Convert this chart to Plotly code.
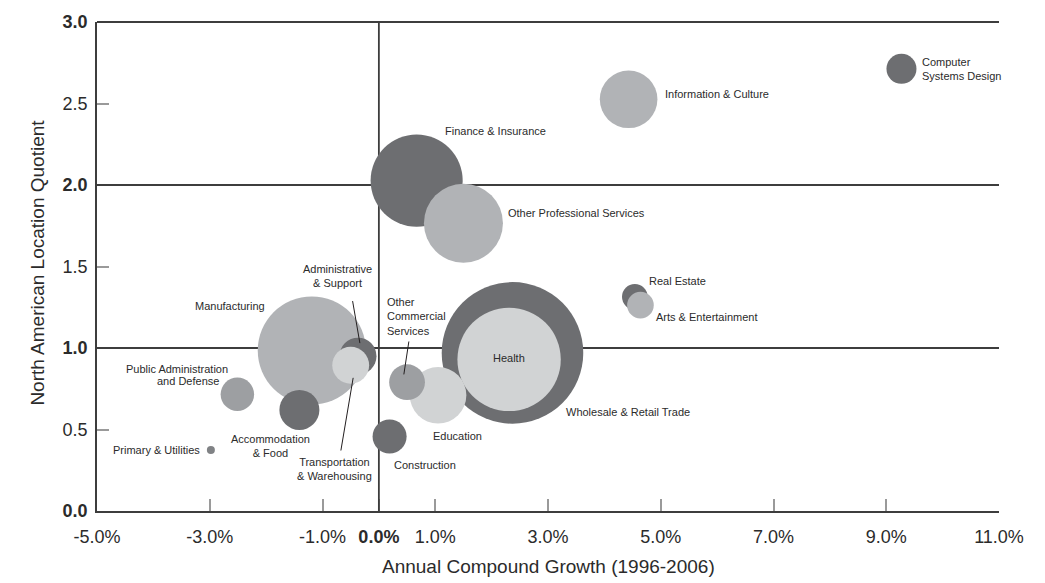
import plotly.graph_objects as go

# Sector data: annual compound growth (%), North American location quotient,
# and relative sector size (drives bubble area). Listed in drawing order.
sectors = [
    "Wholesale & Retail Trade", "Health", "Education", "Other Commercial Services",
    "Manufacturing", "Administrative & Support", "Transportation & Warehousing",
    "Accommodation & Food", "Public Administration and Defense", "Primary & Utilities",
    "Construction", "Finance & Insurance", "Other Professional Services",
    "Information & Culture", "Computer Systems Design", "Real Estate",
    "Arts & Entertainment",
]
growth = [2.37, 2.31, 1.05, 0.50, -1.19, -0.37, -0.50, -1.41, -2.51, -2.98,
          0.19, 0.67, 1.50, 4.43, 9.27, 4.54, 4.64]
location_quotient = [0.97, 0.93, 0.71, 0.79, 0.985, 0.95, 0.894, 0.62, 0.716, 0.375,
                     0.457, 2.027, 1.766, 2.526, 2.713, 1.314, 1.263]
sector_size = [50.1, 26.7, 8.0, 3.2, 29.2, 3.4, 3.4, 4.0, 2.8, 0.16,
               2.9, 21.2, 15.6, 8.3, 2.25, 1.64, 1.77]

x_tick_vals = [-5, -3, -1, 0, 1, 3, 5, 7, 9, 11]
x_tick_text = ["-5.0%", "-3.0%", "-1.0%", "<b>0.0%</b>", "1.0%", "3.0%",
               "5.0%", "7.0%", "9.0%", "11.0%"]
y_tick_vals = [0, 0.5, 1, 1.5, 2, 2.5, 3]
y_tick_text = ["<b>0.0</b>", "0.5", "<b>1.0</b>", "1.5", "<b>2.0</b>", "2.5", "<b>3.0</b>"]

# Grey tones per sector
DARK, MID, MIDDARK, LIGHT, DOT = "#6d6e71", "#b1b3b6", "#9d9fa2", "#d1d3d4", "#808285"
tone = {
    "Wholesale & Retail Trade": DARK, "Health": LIGHT, "Education": LIGHT,
    "Other Commercial Services": MIDDARK, "Manufacturing": MID,
    "Administrative & Support": DARK, "Transportation & Warehousing": LIGHT,
    "Accommodation & Food": DARK, "Public Administration and Defense": MIDDARK,
    "Primary & Utilities": DOT, "Construction": DARK, "Finance & Insurance": DARK,
    "Other Professional Services": MID, "Information & Culture": MID,
    "Computer Systems Design": DARK, "Real Estate": DARK, "Arts & Entertainment": MID,
}

# Label placement: (text, x pixel shift, y pixel shift, xanchor, align)
label_style = {
    "Wholesale & Retail Trade": [("Wholesale & Retail Trade", 52, -59, "left", "left")],
    "Health": [("Health", 0, 1, "center", "center")],
    "Education": [("Education", 19, -41, "center", "center")],
    "Other Commercial Services": [("Other<br>Commercial<br>Services", -22, 66, "left", "left")],
    "Manufacturing": [("Manufacturing", -45, 44, "right", "right")],
    "Administrative & Support": [("Administrative<br>& Support", -21, 80, "center", "center")],
    "Transportation & Warehousing": [("Transportation<br>& Warehousing", -16, -104, "center", "center")],
    "Accommodation & Food": [("Accommodation<br>& Food", -29, -36, "center", "center")],
    "Public Administration and Defense": [("Public Administration", -60, 25, "center", "center"),
                                          ("and Defense", -49, 13, "center", "center")],
    "Primary & Utilities": [("Primary & Utilities", -9, 0, "right", "right")],
    "Construction": [("Construction", 2, -28, "left", "left")],
    "Finance & Insurance": [("Finance & Insurance", 26, 50, "left", "left")],
    "Other Professional Services": [("Other Professional Services", 43, 10, "left", "left")],
    "Information & Culture": [("Information & Culture", 34, 5, "left", "left")],
    "Computer Systems Design": [("Computer<br>Systems Design", 19, 0, "left", "left")],
    "Real Estate": [("Real Estate", 12, 16, "left", "left")],
    "Arts & Entertainment": [("Arts & Entertainment", 14, -12, "left", "left")],
}

FONT = "Liberation Sans, Arial, Helvetica, sans-serif"
LINE = "#3d3d3d"
TEXT = "#2b2b2b"

fig = go.Figure()

# Quadrant reference lines (drawn beneath the bubbles)
ref = dict(mode="lines", line=dict(color=LINE, width=1.8), hoverinfo="skip", showlegend=False)
fig.add_trace(go.Scatter(x=[-5, 11], y=[1, 1], **ref))
fig.add_trace(go.Scatter(x=[-5, 11], y=[2, 2], **ref))
fig.add_trace(go.Scatter(x=[0, 0], y=[0, 3], **ref))

fig.add_trace(go.Scatter(
    x=growth, y=location_quotient, mode="markers", text=sectors,
    marker=dict(size=sector_size, sizemode="area", sizeref=1 / 200, sizemin=0,
                color=[tone[s] for s in sectors], opacity=1, line=dict(width=0)),
    hovertemplate="%{text}<br>%{x:.1f}%<br>%{y:.2f}<extra></extra>",
    showlegend=False,
))

annotations = []
for s, gx, lq in zip(sectors, growth, location_quotient):
    for text, dx, dy, xa, al in label_style[s]:
        annotations.append(dict(
            x=gx, y=lq, xref="x", yref="y", text=text, showarrow=False,
            xshift=dx, yshift=dy, xanchor=xa, yanchor="middle", align=al,
            font=dict(family=FONT, size=11, color=TEXT),
        ))

# Axis titles
annotations.append(dict(
    x=0.5, y=-0.1136, xref="paper", yref="paper", text="Annual Compound Growth (1996-2006)",
    showarrow=False, xanchor="center", yanchor="middle",
    font=dict(family=FONT, size=19, color=TEXT),
))
annotations.append(dict(
    x=-0.0654, y=0.508, xref="paper", yref="paper", text="North American Location Quotient",
    showarrow=False, xanchor="center", yanchor="middle", textangle=-90,
    font=dict(family=FONT, size=19, color=TEXT),
))

# Leader lines from labels to small bubbles
leader = dict(type="line", xref="x", yref="y", layer="above", line=dict(color="#231f20", width=1))
shapes = [
    dict(x0=-0.466, y0=1.288, x1=-0.337, y1=1.030, **leader),
    dict(x0=-0.674, y0=0.371, x1=-0.456, y1=0.817, **leader),
    dict(x0=0.532, y0=1.040, x1=0.443, y1=0.838, **leader),
    # top border
    dict(type="line", xref="paper", yref="paper", x0=0, x1=1, y0=1, y1=1,
         layer="above", line=dict(color=LINE, width=1.8)),
]

fig.update_layout(
    width=1045, height=583,
    margin=dict(l=97, r=46, t=18, b=72),
    paper_bgcolor="white", plot_bgcolor="white",
    font=dict(family=FONT, color=TEXT),
    annotations=annotations, shapes=shapes,
    xaxis=dict(
        range=[-5, 11], tickvals=x_tick_vals, ticktext=x_tick_text,
        ticks="inside", ticklen=12, tickwidth=1.5, tickcolor="#9a9a9a",
        showline=True, linecolor=LINE, linewidth=1.8, showgrid=False, zeroline=False,
        tickfont=dict(family=FONT, size=18, color=TEXT), ticklabelstandoff=8,
        layer="below traces", fixedrange=True,
    ),
    yaxis=dict(
        range=[0, 3], tickvals=y_tick_vals, ticktext=y_tick_text,
        ticks="inside", ticklen=12, tickwidth=1.5, tickcolor="#9a9a9a",
        showline=True, linecolor=LINE, linewidth=1.8, showgrid=False, zeroline=False,
        tickfont=dict(family=FONT, size=18, color=TEXT), ticklabelstandoff=4,
        layer="below traces", fixedrange=True,
    ),
)

fig.write_html("out.html")
